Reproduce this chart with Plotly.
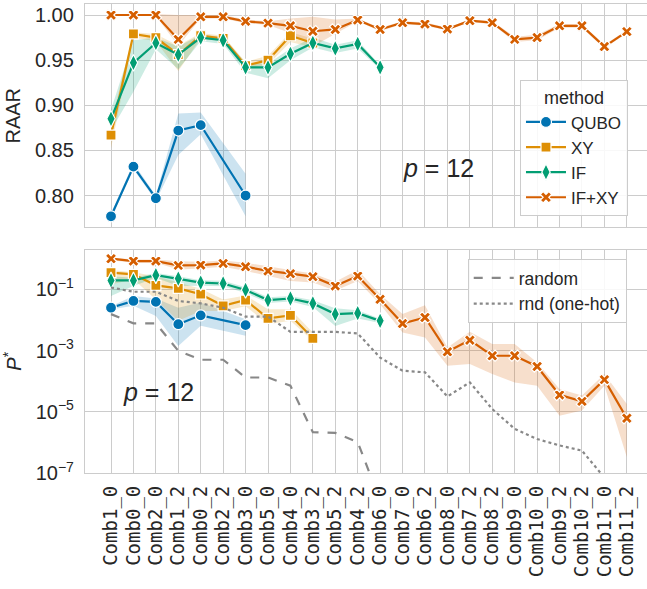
import plotly.graph_objects as go
from plotly.subplots import make_subplots

categories = ["Comb1_0", "Comb0_0", "Comb2_0", "Comb1_2", "Comb0_2", "Comb2_2",
              "Comb3_0", "Comb5_0", "Comb4_0", "Comb3_2", "Comb5_2", "Comb4_2",
              "Comb6_0", "Comb7_0", "Comb6_2", "Comb8_0", "Comb7_2", "Comb8_2",
              "Comb9_0", "Comb10_0", "Comb9_2", "Comb10_2", "Comb11_0", "Comb11_2"]

# ---- RAAR (top panel) ----
qubo_x = ["Comb1_0", "Comb0_0", "Comb2_0", "Comb1_2", "Comb0_2", "Comb3_0"]
qubo_raar = [0.777, 0.832, 0.797, 0.872, 0.878, 0.800]
qubo_raar_lo = [0.774, 0.829, 0.794, 0.845, 0.868, 0.777]
qubo_raar_hi = [0.780, 0.836, 0.800, 0.891, 0.892, 0.824]

xy_x = categories[:10]
xy_raar = [0.867, 0.979, 0.975, 0.956, 0.977, 0.974, 0.944, 0.950, 0.977, 0.969]
xy_raar_lo = [0.852, 0.975, 0.971, 0.938, 0.974, 0.971, 0.940, 0.945, 0.970, 0.964]
xy_raar_hi = [0.880, 0.981, 0.979, 0.966, 0.980, 0.977, 0.948, 0.955, 0.981, 0.974]

if_x = categories[:13]
if_raar = [0.885, 0.947, 0.969, 0.956, 0.975, 0.972, 0.942, 0.942, 0.957, 0.969, 0.963, 0.968, 0.942]
if_raar_lo = [0.872, 0.915, 0.962, 0.940, 0.971, 0.968, 0.936, 0.930, 0.950, 0.964, 0.958, 0.963, 0.940]
if_raar_hi = [0.895, 0.972, 0.975, 0.965, 0.978, 0.976, 0.947, 0.946, 0.963, 0.975, 0.967, 0.972, 0.944]

ifxy_x = categories
ifxy_raar = [1.000, 1.000, 1.000, 0.973, 0.998, 0.998, 0.993, 0.991, 0.988, 0.982, 0.984, 0.9945,
             0.984, 0.9915, 0.990, 0.9845, 0.9937, 0.9915, 0.973, 0.975, 0.988, 0.988, 0.965, 0.9816]
ifxy_raar_lo = [0.999, 0.999, 0.999, 0.966, 0.996, 0.996, 0.991, 0.989, 0.980, 0.965, 0.979, 0.993,
                0.982, 0.990, 0.988, 0.983, 0.992, 0.990, 0.970, 0.972, 0.986, 0.986, 0.963, 0.980]
ifxy_raar_hi = [1.001, 1.001, 1.001, 1.000, 1.000, 1.000, 0.995, 0.993, 0.996, 0.998, 0.995, 0.996,
                0.986, 0.993, 0.992, 0.986, 0.995, 0.993, 0.976, 0.978, 0.990, 0.990, 0.967, 0.983]

# ---- P* (bottom panel), log10 values ----
qubo_p = [-1.60, -1.38, -1.41, -2.14, -1.85, -2.17]
qubo_p_lo = [-1.66, -1.54, -1.87, -2.85, -2.19, -2.52]
qubo_p_hi = [-1.55, -1.22, -1.30, -1.60, -1.43, -1.98]

xy_p = [-0.456, -0.51, -0.87, -0.97, -1.16, -1.54, -1.35, -1.95, -1.85, -2.60]
xy_p_lo = [-0.84, -0.67, -1.33, -2.03, -1.71, -1.71, -1.55, -2.14, -2.03, -2.68]
xy_p_hi = [-0.37, -0.44, -0.57, -0.78, -0.98, -1.33, -1.20, -1.65, -1.65, -2.41]

if_p = [-0.71, -0.71, -0.54, -0.65, -0.78, -0.81, -1.02, -1.35, -1.30, -1.46, -1.81, -1.78, -2.03]
if_p_lo = [-1.22, -0.89, -0.62, -0.89, -0.88, -0.90, -1.12, -1.45, -1.40, -1.58, -2.20, -1.95, -2.10]
if_p_hi = [-0.57, -0.62, -0.47, -0.57, -0.70, -0.72, -0.93, -1.26, -1.22, -1.36, -1.62, -1.68, -1.96]

ifxy_p = [0.0, -0.078, -0.078, -0.218, -0.207, -0.153, -0.26, -0.40, -0.49, -0.586, -0.89, -0.567,
          -1.326, -2.12, -1.92, -3.04, -2.66, -3.17, -3.17, -3.52, -4.45, -4.66, -3.95, -5.21]
ifxy_p_lo = [-0.05, -0.13, -0.13, -0.35, -0.32, -0.26, -0.40, -0.57, -0.73, -0.78, -1.05, -0.73,
             -1.49, -2.41, -2.57, -3.50, -3.44, -3.77, -4.04, -4.15, -5.13, -4.96, -4.15, -6.48]
ifxy_p_hi = [0.04, -0.03, -0.03, -0.08, -0.10, -0.06, -0.13, -0.26, -0.37, -0.48, -0.75, -0.37,
             -1.16, -1.81, -1.52, -2.90, -2.39, -2.79, -2.79, -3.39, -4.26, -4.47, -3.77, -4.75]

random_x = categories[:13]
random_p = [-1.81, -2.11, -2.11, -3.01, -3.30, -3.30, -3.88, -3.88, -4.15, -5.67, -5.69, -5.99, -7.9]

onehot_x = categories[:23]
onehot_p = [-0.94, -1.08, -1.08, -1.38, -1.46, -1.60, -1.89, -1.89, -2.39, -2.39, -2.39, -2.44,
            -3.23, -3.66, -3.71, -4.50, -4.04, -4.91, -5.56, -5.89, -6.10, -6.27, -7.15]

colors = {"QUBO": "#0173b2", "XY": "#de8f05", "IF": "#029e73", "IF+XY": "#d55e00"}
fills = {"QUBO": "rgba(1,115,178,0.2)", "XY": "rgba(222,143,5,0.2)",
         "IF": "rgba(2,158,115,0.2)", "IF+XY": "rgba(213,94,0,0.2)"}
symbols = {"QUBO": "circle", "XY": "square", "IF": "diamond-tall", "IF+XY": "x"}
sizes = {"QUBO": 11, "XY": 10, "IF": 12, "IF+XY": 10}

fig = make_subplots(rows=2, cols=1, shared_xaxes=True, vertical_spacing=0.047)

def pw(vals):
    return [10 ** v for v in vals]

series = [
    ("QUBO", qubo_x, qubo_raar, qubo_raar_lo, qubo_raar_hi, qubo_p, qubo_p_lo, qubo_p_hi),
    ("XY", xy_x, xy_raar, xy_raar_lo, xy_raar_hi, xy_p, xy_p_lo, xy_p_hi),
    ("IF", if_x, if_raar, if_raar_lo, if_raar_hi, if_p, if_p_lo, if_p_hi),
    ("IF+XY", ifxy_x, ifxy_raar, ifxy_raar_lo, ifxy_raar_hi, ifxy_p, ifxy_p_lo, ifxy_p_hi),
]

for name, xs, r, rlo, rhi, p, plo, phi in series:
    for row, (m, lo, hi) in ((1, (r, rlo, rhi)), (2, (pw(p), pw(plo), pw(phi)))):
        fig.add_trace(go.Scatter(x=xs, y=hi, mode="lines", line=dict(width=0),
                                 showlegend=False, hoverinfo="skip"), row=row, col=1)
        fig.add_trace(go.Scatter(x=xs, y=lo, mode="lines", line=dict(width=0),
                                 fill="tonexty", fillcolor=fills[name],
                                 showlegend=False, hoverinfo="skip"), row=row, col=1)

for name, xs, r, rlo, rhi, p, plo, phi in series:
    mk = dict(symbol=symbols[name], size=sizes[name], color=colors[name],
              line=dict(color="white", width=1.2))
    fig.add_trace(go.Scatter(x=xs, y=r, mode="lines+markers", name=name,
                             line=dict(color=colors[name], width=2.2), marker=mk,
                             legend="legend"), row=1, col=1)
    fig.add_trace(go.Scatter(x=xs, y=pw(p), mode="lines+markers", name=name,
                             line=dict(color=colors[name], width=2.2), marker=mk,
                             showlegend=False), row=2, col=1)

fig.add_trace(go.Scatter(x=random_x, y=pw(random_p), mode="lines", name="random",
                         line=dict(color="#888888", width=2.2, dash="dash"),
                         legend="legend2"), row=2, col=1)
fig.add_trace(go.Scatter(x=onehot_x, y=pw(onehot_p), mode="lines", name="rnd (one-hot)",
                         line=dict(color="#888888", width=2.2, dash="dot"),
                         legend="legend2"), row=2, col=1)

font_main = "Liberation Sans, Arial, sans-serif"
axis_common = dict(showline=True, linecolor="#cccccc", linewidth=1.3, mirror=True,
                   showgrid=True, gridcolor="#cccccc", gridwidth=1.1, zeroline=False,
                   ticks="", automargin=False,
                   tickfont=dict(family=font_main, size=20, color="#262626"))

fig.update_xaxes(type="category", categoryorder="array", categoryarray=categories,
                 tickmode="array", tickvals=categories, ticktext=categories,
                 range=[-1.16, 23.9], **axis_common)
fig.update_xaxes(showticklabels=False, row=1, col=1)
fig.update_xaxes(tickangle=-90, ticklabelstandoff=4,
                 tickfont=dict(family="DejaVu Sans Mono", size=19, color="#262626"),
                 row=2, col=1)

fig.update_yaxes(**axis_common)
fig.update_yaxes(ticklabelstandoff=6)
fig.update_yaxes(range=[0.7646, 1.0122], tickvals=[0.80, 0.85, 0.90, 0.95, 1.00],
                 ticktext=["0.80", "0.85", "0.90", "0.95", "1.00"],
                 title=dict(text="RAAR", font=dict(family=font_main, size=20, color="#262626"),
                            standoff=8),
                 row=1, col=1)
fig.update_yaxes(type="log", range=[-7.0, 0.3], tickvals=[1e-7, 1e-5, 1e-3, 1e-1],
                 ticktext=["10<sup>−7</sup>", "10<sup>−5</sup>", "10<sup>−3</sup>", "10<sup>−1</sup>"],
                 title=dict(text="<i>P</i><sup>*</sup>", font=dict(family=font_main, size=20, color="#262626"),
                            standoff=8),
                 row=2, col=1)

fig.add_annotation(text="<i>p</i> = 12", x=14.6, y=0.831, xref="x", yref="y",
                   showarrow=False, font=dict(family=font_main, size=25, color="#262626"))
fig.add_annotation(text="<i>p</i> = 12", x=2.1, y=-4.35, xref="x2", yref="y2",
                   showarrow=False, font=dict(family=font_main, size=25, color="#262626"))

fig.update_layout(
    width=647, height=589,
    margin=dict(l=85, r=0, t=4, b=116),
    paper_bgcolor="white", plot_bgcolor="white",
    font=dict(family=font_main, color="#262626"),
    legend=dict(title=dict(text="method", side="top center",
                           font=dict(family=font_main, size=18, color="#262626")),
                x=0.774, y=0.838, xanchor="left", yanchor="top", traceorder="normal",
                bgcolor="rgba(255,255,255,0.85)", bordercolor="#cccccc", borderwidth=1,
                font=dict(family=font_main, size=17, color="#262626"), itemwidth=40,
                tracegroupgap=0),
    legend2=dict(x=0.681, y=0.4563, xanchor="left", yanchor="top", traceorder="normal",
                 bgcolor="rgba(255,255,255,0.85)", bordercolor="#cccccc", borderwidth=1,
                 font=dict(family=font_main, size=17.5, color="#262626"), itemwidth=40),
    showlegend=True,
)

fig.write_html("out.html", config={"displayModeBar": False},
               post_script="document.body.style.margin='0px';")
